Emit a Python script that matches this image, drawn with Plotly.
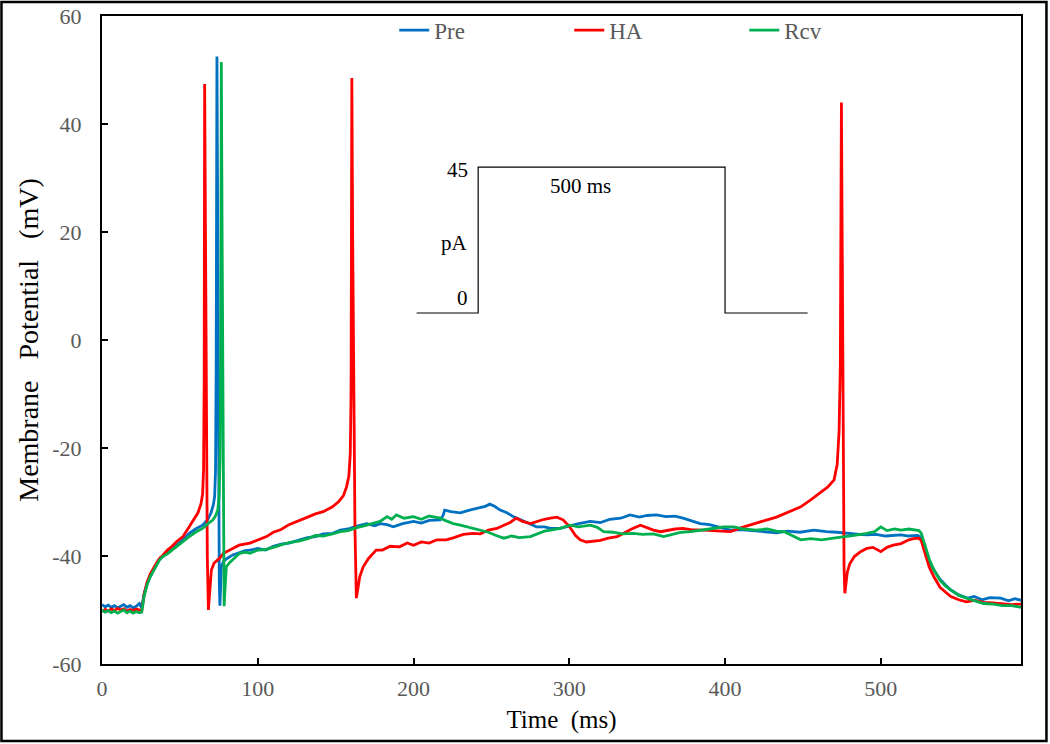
import plotly.graph_objects as go

# ---------------- data ----------------
pre_t = [0, 2, 4, 6, 8, 10, 12, 14, 16, 18, 20, 22, 24, 25.5,
         27, 29, 31, 33, 35, 37, 39, 42, 45, 48, 52, 56, 60, 64.6, 68, 70, 71.5, 72.3, 72.9, 73.3,
         73.8, 74.3, 74.8, 75.3, 75.7, 76.2, 76.6, 78, 80, 84, 88, 92, 95, 100, 105, 110, 115, 120,
         127, 132, 137, 142, 148, 153, 158, 163, 170, 175, 178.5, 183, 187, 193, 200, 205, 210, 217,
         219, 220, 224, 230, 236, 243, 246, 249, 252, 255.6, 260, 264, 270, 275, 279, 284, 288, 294,
         300, 306, 313.5, 320, 326, 333, 339, 345, 350, 356, 362, 368, 373, 378, 384, 390, 396, 403.5,
         410, 418, 427, 433, 440, 448, 457, 465, 472, 480, 486, 491, 497, 503, 508, 513, 518, 523.6,
         525.7, 528, 531, 534, 538, 542, 545, 550, 555.7, 560, 565, 570, 577, 582, 586, 590]
pre_v = [-49.0, -49.4, -49.1, -49.5, -49.2, -49.6, -49.3, -49.0, -49.5, -49.2, -49.6, -49.3, -48.8, -49.6,
         -47.0, -45.0, -43.8, -42.5, -41.5, -40.6, -40.1, -39.5, -38.6, -37.9, -37.0, -35.8, -35.0, -34.3, -33.2, -32.0, -30.5, -29.0, -24.0, -5.0,
         52.5, 20.0, -20.0, -45.0, -49.2, -46.0, -42.0, -41.0, -40.5, -39.8, -39.4, -39.0, -38.9, -38.6, -38.9, -38.2, -37.8, -37.6,
         -37.0, -36.6, -36.4, -35.9, -35.8, -35.2, -35.0, -34.5, -34.0, -34.4, -34.0, -34.2, -34.6, -34.0, -33.6, -33.9, -33.4, -33.3,
         -32.5, -31.5, -31.8, -32.0, -31.5, -31.1, -30.8, -30.4, -30.8, -31.5, -32.0, -32.7, -33.5, -34.2, -34.6, -34.6, -34.9, -34.9,
         -34.4, -34.0, -33.6, -33.8, -33.2, -33.0, -32.4, -32.8, -32.5, -32.4, -32.7, -32.6, -33.0, -33.5, -34.0, -34.2, -34.6, -35.2,
         -35.1, -35.3, -35.5, -35.7, -35.4, -35.6, -35.2, -35.5, -35.6, -35.9, -36.0, -36.1, -36.0, -36.3, -36.2, -36.1, -36.3, -36.2,
         -36.5, -38.5, -41.0, -42.6, -44.3, -45.5, -46.3, -47.2, -47.8, -47.5, -48.1, -47.7, -47.8, -48.3, -47.9, -48.2]

ha_t = [0, 2, 4, 6, 8, 10, 12, 14, 16, 18, 20, 22, 24, 25.5,
        27, 29, 31, 33, 35, 37, 39, 42, 45, 48, 52, 56, 59, 61.6, 63.5, 64.6, 65.2, 65.6,
        65.9, 66.4, 67.0, 67.6, 68.3, 68.9, 69.5, 70.2, 72, 75.5, 78, 82, 88, 95, 100, 105.6, 110, 115,
        120, 127, 132, 137, 142, 148, 152, 155, 157, 158.5, 159.4, 159.9,
        160.4, 160.9, 161.6, 162.4, 163.3, 164.2, 165.5, 167.7, 171, 176, 180, 185, 191, 196, 200, 205,
        210, 215, 221, 226, 232, 238, 243, 248, 253.5, 258, 262, 266, 270, 275, 280, 284, 288, 292, 296,
        300, 304, 307, 311, 315.5, 320, 325, 330.7, 335, 340, 345.7, 350, 354, 358.5, 363, 368, 373, 378,
        386, 394, 403.5, 410, 418.5, 427, 433, 440, 448.6, 455, 461.4, 466, 470, 472, 473.2, 474,
        474.7, 475.2, 475.8, 476.4, 476.9, 477.6, 478.5, 480, 483, 487, 491, 495, 500, 504, 508, 513,
        518, 521, 524.5, 526, 528.5, 531, 534, 538, 542, 545, 550, 555, 560, 566, 572, 578, 584, 590]
ha_v = [-50.3, -49.9, -50.2, -49.8, -50.1, -49.7, -50.0, -49.8, -50.2, -49.9, -50.1, -49.8, -50.0, -50.2,
        -47.2, -44.8, -43.3, -42.2, -41.3, -40.4, -39.9, -38.9, -38.2, -37.3, -36.4, -34.6, -33.2, -32.0, -30.4, -28.5, -24.0, -8.0,
        47.4, 20.0, -15.0, -40.0, -50.0, -48.0, -45.0, -42.6, -41.3, -40.4, -39.5, -38.9, -38.0, -37.6, -37.0, -36.4, -35.6, -35.1,
        -34.2, -33.3, -32.8, -32.2, -31.8, -30.9, -29.9, -28.8, -27.2, -25.2, -21.0, -10.0,
        48.5, 20.0, -10.0, -35.0, -47.8, -46.0, -43.8, -42.0, -40.5, -38.9, -38.9, -38.2, -38.3, -37.6, -38.0, -37.4,
        -37.6, -37.0, -37.0, -36.6, -36.0, -35.8, -35.9, -35.2, -34.9, -34.3, -33.8, -33.0, -33.6, -34.0, -33.5, -33.2, -33.0, -32.8, -33.3,
        -34.5, -36.2, -37.0, -37.4, -37.3, -37.1, -36.7, -36.4, -35.8, -35.0, -34.3, -34.8, -35.2, -35.5, -35.2, -35.0, -34.9, -35.1,
        -35.2, -35.4, -35.5, -34.8, -34.0, -33.3, -32.8, -31.9, -30.9, -29.6, -28.1, -27.2, -25.9, -23.0, -17.0, -5.0,
        44.0, 10.0, -25.0, -42.0, -46.9, -45.0, -43.0, -41.5, -40.1, -39.2, -38.6, -38.4, -39.2, -38.4, -38.0, -37.7,
        -37.0, -36.8, -36.7, -37.2, -39.5, -42.0, -43.8, -45.8, -46.8, -47.5, -48.1, -48.5, -48.2, -48.6, -48.7, -48.9, -49.0, -48.9]

rcv_t = [0, 2, 4, 6, 8, 10, 12, 14, 16, 18, 20, 22, 24, 25.5,
         27, 29, 31, 33, 35, 37, 39, 42, 45, 48, 52, 56, 60, 64.6, 68, 71.3, 73, 74.3, 75.2, 75.8, 76.2,
         76.6, 77.1, 77.6, 78.0, 78.4, 79, 79.8, 82, 84, 88.4, 92, 95, 100, 105, 110, 115, 120,
         127, 132, 137, 142, 148, 153, 158, 163, 170, 175, 178.5, 183, 186, 189, 194, 200, 205, 210,
         217, 221, 225.5, 230, 234, 238, 243, 248, 253, 258, 263, 268, 275, 280, 284, 288, 294,
         300.6, 306, 313.5, 318, 322, 328, 334, 341, 347, 354, 360.6, 366, 372, 378, 384, 390, 399,
         405.5, 412, 420, 427, 433, 438, 443, 448.6, 455, 462, 469.7, 476, 483, 491, 496, 500, 504, 509,
         513, 518, 524.5, 526, 528.5, 531, 534, 538, 542, 545, 550, 555, 560, 566, 572, 578, 584, 590]
rcv_v = [-50.0, -50.4, -50.1, -50.5, -50.2, -50.6, -50.3, -50.0, -50.5, -50.2, -50.6, -50.3, -50.5, -50.4,
         -47.5, -45.3, -43.8, -42.7, -41.6, -40.7, -40.1, -39.6, -38.9, -38.2, -37.2, -36.4, -35.6, -34.9, -34.0, -33.3, -32.5, -31.5, -29.0, -22.0, -5.0,
         51.5, 20.0, -20.0, -45.0, -49.3, -46.0, -42.0, -41.2, -40.7, -39.5, -39.3, -39.5, -38.9, -38.8, -38.4, -38.0, -37.5,
         -37.2, -36.8, -36.2, -36.3, -35.9, -35.5, -35.3, -34.8, -34.3, -33.9, -33.6, -32.7, -33.2, -32.4, -33.0, -32.7, -33.2, -32.6,
         -33.0, -33.5, -34.0, -34.3, -34.6, -34.8, -35.2, -35.6, -36.2, -36.7, -36.3, -36.6, -36.4, -35.9, -35.4, -35.2, -34.9,
         -34.3, -34.6, -34.3, -34.7, -35.5, -35.6, -35.9, -35.8, -36.0, -35.9, -36.4, -36.0, -35.6, -35.5, -35.2, -35.0, -34.6,
         -34.6, -35.0, -35.2, -35.0, -35.4, -35.5, -36.2, -37.0, -36.8, -37.0, -36.7, -36.5, -36.2, -35.8, -35.5, -34.6, -35.3, -35.0,
         -35.2, -35.0, -35.3, -35.8, -38.0, -40.5, -42.5, -44.5, -45.7, -46.3, -47.3, -47.8, -48.2, -48.8, -48.9, -49.2, -49.2, -49.5]

series_names = ["Pre", "HA", "Rcv"]
series_colors = ["#0070C0", "#FF0000", "#00B050"]

# stimulus protocol schematic (inset)
stim_t = [202, 241.5, 241.5, 400, 400, 453]
stim_v = [5, 5, 32, 32, 5, 5]

x_tick_vals = [0, 100, 200, 300, 400, 500]
y_tick_vals = [-60, -40, -20, 0, 20, 40, 60]
y_tick_text = ["-60", "-40", "-20", "0", "20", "40", "60"]

# ---------------- figure ----------------
FONT = "Liberation Serif"
fig = go.Figure()

for name, color, tt, vv in zip(series_names, series_colors,
                               [pre_t, ha_t, rcv_t], [pre_v, ha_v, rcv_v]):
    fig.add_trace(go.Scatter(x=tt, y=vv, mode="lines", name=name,
                             line=dict(color=color, width=2.8)))

fig.add_trace(go.Scatter(x=stim_t, y=stim_v, mode="lines", showlegend=False,
                         hoverinfo="skip", line=dict(color="black", width=1.2)))

ann_font = dict(family=FONT, size=21, color="black")
fig.add_annotation(x=236, y=31.5, text="45", showarrow=False, xanchor="right", yanchor="middle", font=ann_font)
fig.add_annotation(x=236, y=18, text="pA", showarrow=False, xanchor="right", yanchor="middle", font=ann_font)
fig.add_annotation(x=236, y=7.8, text="0", showarrow=False, xanchor="right", yanchor="middle", font=ann_font)
fig.add_annotation(x=307, y=28.5, text="500 ms", showarrow=False, xanchor="center", yanchor="middle", font=ann_font)

# outer frame around whole picture
fig.add_shape(type="rect", xref="paper", yref="paper",
              x0=-0.1094, x1=1.0277, y0=-0.1188, y1=1.0216,
              line=dict(color="black", width=2.5), layer="above")

fig.update_layout(
    width=1050, height=744,
    margin=dict(l=102, r=29, t=16, b=80, autoexpand=False),
    paper_bgcolor="white", plot_bgcolor="white",
    font=dict(family=FONT, color="#595959"),
    showlegend=True,
    legend=dict(orientation="h", x=0.318, xanchor="left", y=0.978, yanchor="middle",
                bgcolor="rgba(0,0,0,0)", font=dict(family=FONT, size=23, color="#595959"),
                entrywidth=130, entrywidthmode="pixels", traceorder="normal"),
    xaxis=dict(range=[0, 590], tickvals=x_tick_vals, ticks="inside", ticklen=6,
               tickwidth=1.5, tickcolor="black", showline=True, linecolor="black",
               linewidth=2, mirror=True, showgrid=False, zeroline=False,
               ticklabelstandoff=4,
               tickfont=dict(family=FONT, size=22, color="#595959"),
               title=dict(text="Time\u00a0\u00a0(ms)", standoff=10,
                          font=dict(family=FONT, size=25, color="black"))),
    yaxis=dict(range=[-60, 60], tickvals=y_tick_vals, ticktext=y_tick_text,
               ticks="inside", ticklen=6, tickwidth=1.5, tickcolor="black",
               showline=True, linecolor="black", linewidth=2, mirror=True,
               showgrid=False, zeroline=False, ticklabelstandoff=14,
               tickfont=dict(family=FONT, size=22, color="#595959"),
               title=dict(text="Membrane\u00a0\u00a0\u00a0Potential\u00a0\u00a0\u00a0(mV)", standoff=5,
                          font=dict(family=FONT, size=28, color="black"))),
)

fig.write_html("out.html", config={"displayModeBar": False},
               post_script="document.body.style.margin='0px';")
